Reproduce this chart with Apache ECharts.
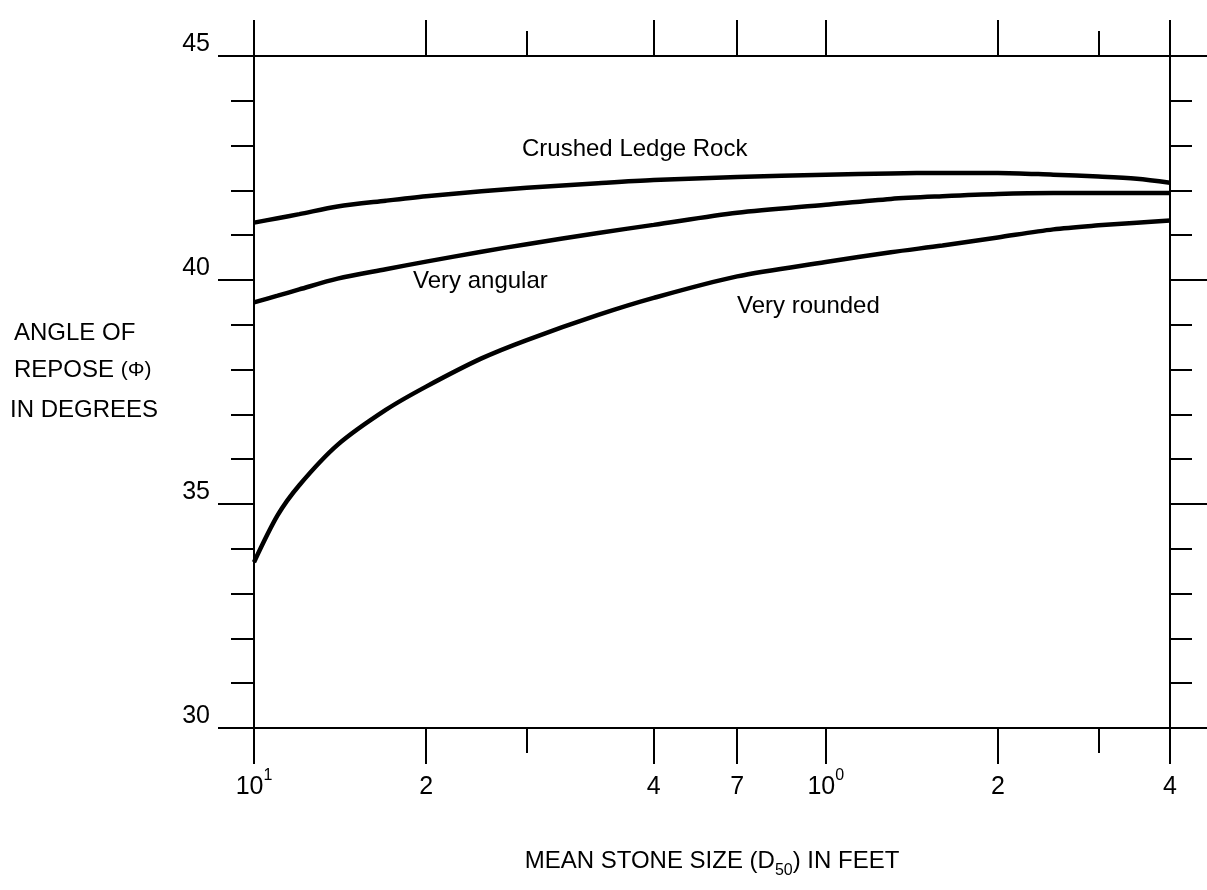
<!DOCTYPE html>
<html>
<head>
<meta charset="utf-8">
<script src="https://cdn.jsdelivr.net/npm/echarts@6/dist/echarts.min.js"></script>
<style>
html,body{margin:0;padding:0;background:#fff;}
#chart{width:1207px;height:890px;}
</style>
</head>
<body>
<div id="chart"></div>
<script>
// ---- Data ----
const stoneSizes       = [0.1, 0.11, 0.12, 0.14, 0.17, 0.2, 0.25, 0.3, 0.4, 0.5, 0.7, 1.0, 1.3, 1.6, 2.0, 2.5, 3.0, 3.5, 4.0];
const crushedLedgeRock = [41.28, 41.38, 41.47, 41.64, 41.77, 41.87, 41.98, 42.06, 42.16, 42.23, 42.30, 42.35, 42.38, 42.39, 42.39, 42.35, 42.31, 42.26, 42.17];
const veryAngular      = [39.50, 39.65, 39.79, 40.03, 40.24, 40.41, 40.63, 40.80, 41.05, 41.23, 41.50, 41.68, 41.81, 41.87, 41.92, 41.94, 41.94, 41.94, 41.94];
const veryRounded      = [33.70, 34.75, 35.42, 36.32, 37.10, 37.62, 38.25, 38.66, 39.22, 39.60, 40.08, 40.40, 40.62, 40.77, 40.95, 41.13, 41.22, 41.28, 41.33];
const curveNames       = ['Crushed Ledge Rock', 'Very angular', 'Very rounded'];

const xMajorTicks  = [0.1, 0.2, 0.5, 0.7, 1, 2, 4];
const xMinorTicks  = [0.3, 3];
const xLabelBase   = ['10', '2', '4', '7', '10', '2', '4'];
const xLabelSup    = ['1', '', '', '', '0', '', ''];
const yMin = 30, yMax = 45, yLabelStep = 5;

const yTitleLines = ['ANGLE OF', 'REPOSE ', 'IN DEGREES'];
const xTitle = ['MEAN STONE SIZE (D', '50', ') IN FEET'];

// ---- Chart ----
const FONT = "'Liberation Sans', Arial, Helvetica, sans-serif";
const BLACK = '#000';
const tickStyle = { color: BLACK, width: 2 };
const lineAxis = { show: true, onZero: false, lineStyle: { color: BLACK, width: 2 } };

function pairs(vals) { return stoneSizes.map((s, i) => [s, vals[i]]); }
function fmtX(v) {
  const i = xMajorTicks.findIndex(t => Math.abs(Math.log10(t) - Math.log10(v)) < 1e-6);
  if (i < 0) return '';
  return '{b|' + xLabelBase[i] + '}' + (xLabelSup[i] ? '{s|' + xLabelSup[i] + '}' : '');
}

const xCommon = {
  type: 'log', logBase: 10, min: 0.1, max: 4,
  splitLine: { show: false }, minorTick: { show: false }, minorSplitLine: { show: false }
};
const yCommon = {
  type: 'value', min: yMin, max: yMax, interval: yLabelStep,
  splitLine: { show: false }, axisLine: lineAxis
};

const chart = echarts.init(document.getElementById('chart'));
const option = {
  backgroundColor: '#fff',
  animation: false,
  grid: { left: 254, right: 37, top: 56, bottom: 162, outerBoundsMode: 'none' },
  xAxis: [
    Object.assign({}, xCommon, {
      position: 'bottom',
      axisLine: lineAxis,
      axisTick: { show: true, length: 36, customValues: xMajorTicks, lineStyle: tickStyle },
      axisLabel: {
        show: true, customValues: xMajorTicks, formatter: fmtX, margin: 40, color: BLACK,
        rich: {
          b: { fontSize: 25, lineHeight: 32, verticalAlign: 'bottom', fontFamily: FONT, color: BLACK },
          s: { fontSize: 16, lineHeight: 16, verticalAlign: 'top', fontFamily: FONT, color: BLACK }
        }
      },
      name: '{t|' + xTitle[0] + '}{sub|' + xTitle[1] + '}{t|' + xTitle[2] + '}',
      nameLocation: 'middle', nameGap: 121,
      nameTextStyle: {
        color: BLACK, fontFamily: FONT, fontSize: 24,
        rich: {
          t: { fontSize: 24, lineHeight: 30, verticalAlign: 'top', fontFamily: FONT, color: BLACK },
          sub: { fontSize: 16, lineHeight: 16, verticalAlign: 'bottom', fontFamily: FONT, color: BLACK }
        }
      }
    }),
    Object.assign({}, xCommon, {
      position: 'bottom',
      axisLine: { show: false },
      axisTick: { show: true, length: 25, customValues: xMinorTicks, lineStyle: tickStyle },
      axisLabel: { show: false }
    }),
    Object.assign({}, xCommon, {
      position: 'top',
      axisLine: lineAxis,
      axisTick: { show: true, length: 36, customValues: xMajorTicks, lineStyle: tickStyle },
      axisLabel: { show: false }
    }),
    Object.assign({}, xCommon, {
      position: 'top',
      axisLine: { show: false },
      axisTick: { show: true, length: 25, customValues: xMinorTicks, lineStyle: tickStyle },
      axisLabel: { show: false }
    })
  ],
  yAxis: [
    Object.assign({}, yCommon, {
      position: 'left',
      axisTick: { show: true, length: 36, lineStyle: tickStyle },
      minorTick: { show: true, splitNumber: 5, length: 23, lineStyle: tickStyle },
      axisLabel: { show: true, margin: 44, fontSize: 25, lineHeight: 24, verticalAlign: 'bottom', color: BLACK, fontFamily: FONT }
    }),
    Object.assign({}, yCommon, {
      position: 'right',
      axisTick: { show: true, length: 37, lineStyle: tickStyle },
      minorTick: { show: true, splitNumber: 5, length: 22, lineStyle: tickStyle },
      axisLabel: { show: false }
    })
  ],
  series: [crushedLedgeRock, veryAngular, veryRounded].map((vals, k) => ({
    name: curveNames[k],
    type: 'line',
    xAxisIndex: 0, yAxisIndex: 0,
    data: pairs(vals),
    showSymbol: false,
    smooth: 0.3,
    lineStyle: { color: BLACK, width: 4.5 }
  })),
  graphic: [
    { type: 'text', x: 522, y: 149, style: { text: curveNames[0], font: '24px ' + FONT, fill: BLACK, textVerticalAlign: 'middle', verticalAlign: 'middle' } },
    { type: 'text', x: 413, y: 281, style: { text: curveNames[1], font: '24px ' + FONT, fill: BLACK, textVerticalAlign: 'middle', verticalAlign: 'middle' } },
    { type: 'text', x: 737, y: 306, style: { text: curveNames[2], font: '24px ' + FONT, fill: BLACK, textVerticalAlign: 'middle', verticalAlign: 'middle' } },
    { type: 'text', x: 14, y: 333, style: { text: yTitleLines[0], font: '24px ' + FONT, fill: BLACK, textVerticalAlign: 'middle', verticalAlign: 'middle' } },
    { type: 'text', x: 14, y: 370, style: { text: yTitleLines[1] + '{s|(Φ)}', font: '24px ' + FONT, fill: BLACK, textVerticalAlign: 'middle', verticalAlign: 'middle',
        rich: { s: { fontSize: 21, fontFamily: FONT, fill: BLACK, color: BLACK } } } },
    { type: 'text', x: 10, y: 410, style: { text: yTitleLines[2], font: '24px ' + FONT, fill: BLACK, textVerticalAlign: 'middle', verticalAlign: 'middle' } }
  ]
};
chart.setOption(option);
</script>
</body>
</html>
